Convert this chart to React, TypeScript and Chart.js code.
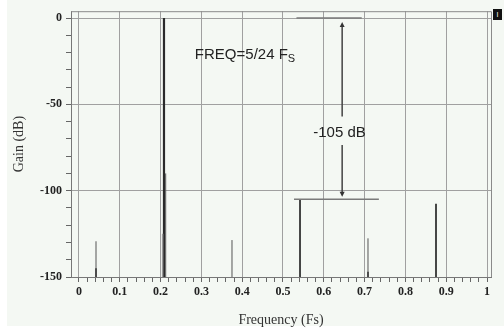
import React, { useEffect, useRef } from "react";
import { Chart, registerables } from "chart.js";

Chart.register(...registerables);

// Spectrum spikes (frequency in Fs, gain in dB)
const mainFreq = [0.2083];
const mainGain = [0];
const strongFreq = [0.5417, 0.875];
const strongGain = [-105, -107.5];
const weakFreq = [0.0417, 0.2125, 0.375, 0.7083];
const weakGain = [-129.3, -90, -128.6, -127.6];
const faintFreq = [0.205];
const faintGain = [-125];
const stubFreq = [0.0417, 0.7083];
const stubGain = [-145, -147];

// Axis ticks
const xMajorTicks = [0, 0.1, 0.2, 0.3, 0.4, 0.5, 0.6, 0.7, 0.8, 0.9, 1];
const xMinorStep = 0.02;
const yMajorTicks = [0, -50, -100, -150];
const yMinorStep = 10;

// Annotation values
const refTopLine = { from: 0.533, to: 0.693, gain: 0 };
const refBottomLine = { from: 0.527, to: 0.735, gain: -105 };
const arrowFreq = 0.645;
const arrowTop = -2.3;
const arrowBottom = -103.5;
const arrowGapTop = -57;
const arrowGapBottom = -73.5;
const freqLabel = { text: "FREQ=5/24 F", sub: "S", x: 0.284, y: -21.5 };
const dbLabel = { text: "-105 dB", x: 0.6385, y: -66.5 };

const BASE = -150;

function spikes(freqs: number[], gains: number[]) {
  const pts: any[] = [];
  freqs.forEach((f, i) => {
    pts.push({ x: f, y: BASE });
    pts.push({ x: f, y: gains[i] });
    pts.push({ x: f, y: null });
  });
  return pts;
}

const annotationPlugin = {
  id: "annot",
  afterDatasetsDraw(chart: any) {
    const { ctx, chartArea, scales } = chart;
    const xs = scales.x;
    const ys = scales.y;
    ctx.save();
    // frame top & right
    ctx.strokeStyle = "#8a8a8a";
    ctx.lineWidth = 1;
    ctx.beginPath();
    ctx.moveTo(chartArea.left, chartArea.top + 0.5);
    ctx.lineTo(chartArea.right + 0.5, chartArea.top + 0.5);
    ctx.lineTo(chartArea.right + 0.5, chartArea.bottom);
    ctx.stroke();

    // reference lines
    ctx.strokeStyle = "#7a7a7a";
    ctx.lineWidth = 1.5;
    [refTopLine, refBottomLine].forEach((r) => {
      const y = ys.getPixelForValue(r.gain);
      ctx.beginPath();
      ctx.moveTo(xs.getPixelForValue(r.from), y);
      ctx.lineTo(xs.getPixelForValue(r.to), y);
      ctx.stroke();
    });

    // arrow
    const ax = xs.getPixelForValue(arrowFreq);
    const yTop = ys.getPixelForValue(arrowTop);
    const yBot = ys.getPixelForValue(arrowBottom);
    ctx.strokeStyle = "#444";
    ctx.lineWidth = 1.5;
    ctx.beginPath();
    ctx.moveTo(ax, yTop + 3);
    ctx.lineTo(ax, ys.getPixelForValue(arrowGapTop));
    ctx.moveTo(ax, ys.getPixelForValue(arrowGapBottom));
    ctx.lineTo(ax, yBot - 3);
    ctx.stroke();
    ctx.fillStyle = "#333";
    ctx.beginPath();
    ctx.moveTo(ax, yTop);
    ctx.lineTo(ax - 2.5, yTop + 5);
    ctx.lineTo(ax + 2.5, yTop + 5);
    ctx.closePath();
    ctx.fill();
    ctx.beginPath();
    ctx.moveTo(ax, yBot);
    ctx.lineTo(ax - 2.5, yBot - 5);
    ctx.lineTo(ax + 2.5, yBot - 5);
    ctx.closePath();
    ctx.fill();

    // texts
    ctx.fillStyle = "#222";
    ctx.font = "15px 'Liberation Sans', Arial, sans-serif";
    ctx.textBaseline = "middle";
    ctx.textAlign = "left";
    const fx = xs.getPixelForValue(freqLabel.x);
    const fy = ys.getPixelForValue(freqLabel.y);
    ctx.fillText(freqLabel.text, fx, fy);
    const w = ctx.measureText(freqLabel.text).width;
    ctx.font = "11px 'Liberation Sans', Arial, sans-serif";
    ctx.fillText(freqLabel.sub, fx + w, fy + 4);
    ctx.font = "15px 'Liberation Sans', Arial, sans-serif";
    ctx.textAlign = "center";
    ctx.fillText(dbLabel.text, xs.getPixelForValue(dbLabel.x), ys.getPixelForValue(dbLabel.y));
    ctx.restore();
  },
};

export default function App() {
  const ref = useRef<HTMLCanvasElement>(null);
  useEffect(() => {
    if (!ref.current) return;
    const nMinorX = Math.round(1 / xMinorStep);
    const xTickValues: number[] = [];
    for (let i = 0; i <= nMinorX; i++) xTickValues.push(+(i * xMinorStep).toFixed(4));
    const yTickValues: number[] = [];
    for (let v = BASE; v <= 0; v += yMinorStep) yTickValues.push(v);
    const isXMajor = (v: number) => xMajorTicks.some((t) => Math.abs(t - v) < 1e-6);
    const isYMajor = (v: number) => yMajorTicks.includes(v);

    const serif = "'Liberation Serif', 'DejaVu Serif', serif";
    const chart = new Chart(ref.current, {
      type: "line",
      data: {
        datasets: [
          { data: spikes(faintFreq, faintGain), borderColor: "#9a9a9a", borderWidth: 1.5, pointRadius: 0, spanGaps: false },
          { data: spikes(weakFreq, weakGain), borderColor: "#555", borderWidth: 1, pointRadius: 0, spanGaps: false },
          { data: spikes(stubFreq, stubGain), borderColor: "#444", borderWidth: 2, pointRadius: 0, spanGaps: false },
          { data: spikes(strongFreq, strongGain), borderColor: "#333", borderWidth: 1.8, pointRadius: 0, spanGaps: false },
          { data: spikes(mainFreq, mainGain), borderColor: "#2a2a2a", borderWidth: 2.2, pointRadius: 0, spanGaps: false },
        ],
      },
      options: {
        animation: false,
        responsive: false,
        maintainAspectRatio: false,
        layout: { padding: { top: 8, right: 13, left: 0, bottom: 0 } },
        plugins: { legend: { display: false }, tooltip: { enabled: false } },
        scales: {
          x: {
            type: "linear",
            min: -0.0196,
            max: 1.0098,
            afterBuildTicks: (axis: any) => {
              axis.ticks = xTickValues.map((v) => ({ value: v }));
            },
            afterFit: (axis: any) => {
              axis.height = 52;
            },
            ticks: {
              autoSkip: false,
              maxRotation: 0,
              padding: 3,
              color: "#222",
              font: { family: serif, size: 12, weight: "bold" },
              callback: (v: any) => (isXMajor(Number(v)) ? String(+Number(v).toFixed(1)) : ""),
            },
            grid: {
              color: (c: any) => (c.tick && isXMajor(c.tick.value) ? "#a0a0a0" : "rgba(0,0,0,0)"),
              tickColor: "#666",
              tickLength: 5,
              lineWidth: 1,
            },
            border: { color: "#777", width: 1 },
            title: {
              display: true,
              text: "Frequency (Fs)",
              color: "#333",
              font: { family: serif, size: 14 },
              padding: { top: 4, bottom: 0 },
            },
          },
          y: {
            type: "linear",
            min: BASE,
            max: 4,
            afterBuildTicks: (axis: any) => {
              axis.ticks = yTickValues.map((v) => ({ value: v }));
            },
            afterFit: (axis: any) => {
              axis.width = 71;
            },
            ticks: {
              autoSkip: false,
              padding: 4,
              color: "#222",
              font: { family: serif, size: 12, weight: "bold" },
              callback: (v: any) => (isYMajor(Number(v)) ? String(v) : ""),
            },
            grid: {
              color: (c: any) =>
                c.tick && isYMajor(c.tick.value) && c.tick.value !== BASE ? "#a0a0a0" : "rgba(0,0,0,0)",
              tickColor: "#666",
              tickLength: 5,
              lineWidth: 1,
            },
            border: { color: "#777", width: 1 },
            title: {
              display: true,
              text: "Gain (dB)",
              color: "#333",
              font: { family: serif, size: 14 },
              padding: { top: 11, bottom: 0 },
            },
          },
        },
      },
      plugins: [annotationPlugin],
    } as any);
    return () => chart.destroy();
  }, []);

  return (
    <div style={{ position: "fixed", left: 0, top: 0, width: 504, height: 329, background: "#fff" }}>
      <div style={{ position: "absolute", left: 7, top: 0, width: 497, height: 326, background: "#f4f8f3" }} />
      <canvas ref={ref} width={504} height={329} style={{ position: "absolute", left: 0, top: 0, width: 504, height: 329 }} />
      <div
        style={{
          position: "absolute",
          left: 493,
          top: 9,
          width: 9,
          height: 11,
          background: "#111",
          color: "#fff",
          fontSize: 7,
          lineHeight: "11px",
          textAlign: "center",
          fontFamily: "sans-serif",
        }}
      >
        I
      </div>
    </div>
  );
}
